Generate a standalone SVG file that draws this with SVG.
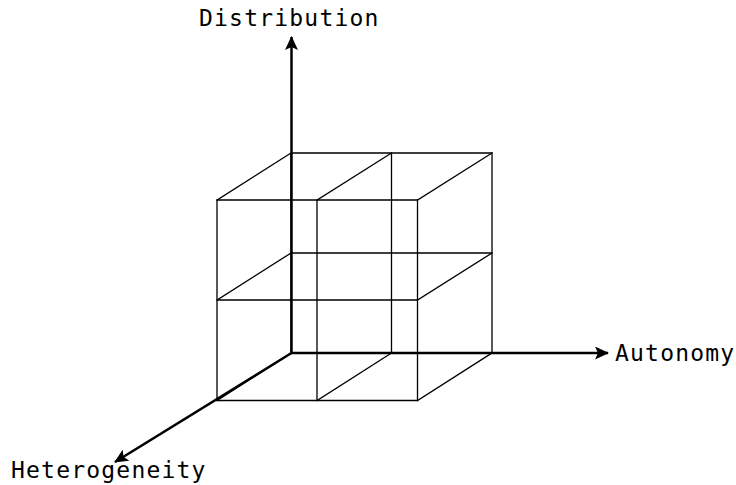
<svg xmlns="http://www.w3.org/2000/svg" width="736" height="485" viewBox="0 0 736 485">
<style>
.cube{fill:none;stroke:#000;stroke-width:1.3;stroke-linecap:square}
.axis{fill:none;stroke:#000;stroke-width:2.5}
.lbl{font-family:"DejaVu Sans Mono","Liberation Mono",monospace;font-size:23px;letter-spacing:1.2px;fill:#000}
</style>
<defs>
<marker id="ah" viewBox="0 0 14 13" refX="13" refY="6.5" markerWidth="14" markerHeight="13" markerUnits="userSpaceOnUse" orient="auto">
<path d="M0,0 L14,6.5 L0,13 L3,6.5 Z" fill="#000"/>
</marker>
</defs>
<rect width="736" height="485" fill="#fff"/>
<g id="cube">
<path class="cube" d="M291,153 H492 V353 H291 Z M391.5,153 V353 M291,253 H492"/>
<path class="cube" d="M217,200 H417.5 V400.5 H217 Z M317,200 V400.5 M217,300 H417.5"/>
<path class="cube" d="M217,200 L291,153 M317,200 L391.5,153 M417.5,200 L492,153 M417.5,300 L492,253 M217,300 L291,253 M217,400.5 L291,353 M317,400.5 L391.5,353 M417.5,400.5 L492,353"/>
</g>
<g id="connectors">
<line class="axis" x1="291.5" y1="353" x2="291.5" y2="37" marker-end="url(#ah)"/>
<line class="axis" x1="290" y1="353" x2="608" y2="353" marker-end="url(#ah)"/>
<line class="axis" x1="291.5" y1="353" x2="115" y2="462" marker-end="url(#ah)"/>
</g>
<g id="distribution"><text class="lbl" x="199" y="26">Distribution</text></g>
<g id="autonomy"><text class="lbl" x="615" y="361">Autonomy</text></g>
<g id="heterogeneity"><text class="lbl" x="11" y="478">Heterogeneity</text></g>
</svg>
